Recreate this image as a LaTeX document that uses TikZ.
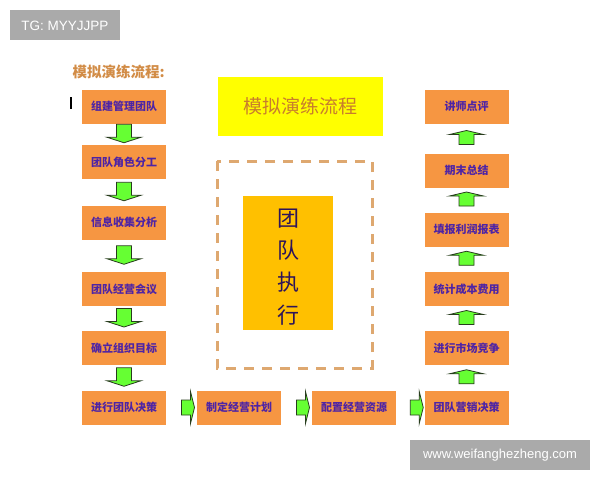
\documentclass[tikz,border=0pt]{standalone}
\usepackage{fontspec}
\setmainfont{Liberation Sans}
\newfontfamily\cjk{Noto Sans CJK SC}
\usetikzlibrary{calc}
\definecolor{boxorange}{RGB}{246,150,66}
\definecolor{boxtext}{RGB}{78,36,165}
\definecolor{agreen}{RGB}{102,255,51}
\definecolor{aline}{RGB}{40,60,30}
\definecolor{dashtan}{RGB}{222,168,112}
\definecolor{titletan}{RGB}{210,140,70}
\definecolor{ttlyellow}{RGB}{255,255,0}
\definecolor{ttltext}{RGB}{200,125,45}
\definecolor{gold}{RGB}{255,192,0}
\definecolor{goldtext}{RGB}{45,20,90}
\definecolor{wmgray}{RGB}{170,170,170}
\tikzset{
  box/.style={fill=boxorange, minimum width=84pt, minimum height=34pt, inner sep=0pt,
    text=boxtext, font=\cjk\bfseries\fontsize{11}{13}\selectfont},
  garrow/.style={fill=agreen, draw=aline, line width=0.8pt, line join=miter},
  wm/.style={fill=wmgray, text=white, inner sep=0pt}
}
\newcommand\arrdown[2]{%
  \begin{scope}[shift={($(#1.south)!0.5!(#2.north)$)}]
    \draw[garrow] (-7.5,-10) -- (7.5,-10) -- (7.5,3) -- (17,3) -- (0,8.5) -- (-17,3) -- (-7.5,3) -- cycle;
  \end{scope}}
\newcommand\arrup[2]{%
  \begin{scope}[shift={($(#1.north)!0.5!(#2.south)$)}]
    \draw[garrow] (-7.5,6) -- (7.5,6) -- (7.5,-4) -- (17,-4) -- (0,-8) -- (-17,-4) -- (-7.5,-4) -- cycle;
  \end{scope}}
\newcommand\arrright[2]{%
  \begin{scope}[shift={($(#1.east)!0.5!(#2.west)$)}]
    \draw[garrow] (0,-7.5) -- (9,-7.5) -- (9,-16) -- (13,0) -- (9,16) -- (9,7.5) -- (0,7.5) -- cycle;
  \end{scope}}
\begin{document}
\begin{tikzpicture}[x=1pt,y=-1pt]
\fill[white] (0,0) rectangle (600,480);
\useasboundingbox (0,0) rectangle (600,480);

% watermarks
\fill[wmgray] (10,10) rectangle (120,40);
\node[text=white, font=\fontsize{13.5}{15}\selectfont] (wm1) at (65,25.5) {TG: MYYJJPP};
\fill[wmgray] (410,440) rectangle (590,470);
\node[text=white, font=\fontsize{13}{15}\selectfont] (wm2) at (500,455) {www.weifanghezheng.com};

% left title
\node[anchor=west, inner sep=0pt, text=titletan, font=\cjk\bfseries\fontsize{14.5}{16}\selectfont] (ltitle) at (72.5,72) {模拟演练流程:};
\draw[black, line width=1.2pt] (71,97) -- (71,109);

% main title
\fill[ttlyellow] (218,77) rectangle (383,136);
\node[text=ttltext, font=\cjk\fontsize{19}{22}\selectfont] (mtitle) at (300.5,106.5) {模拟演练流程};

% dashed frame and centre box
\draw[dashtan, line width=3pt, dash pattern=on 10pt off 8pt] (217,161) rectangle (372,368);
\fill[gold] (243,196) rectangle (333,330);
\node[align=center, text=goldtext, font=\cjk\fontsize{22}{32.3}\selectfont, inner sep=0pt] (exec) at (288,267) {团\\队\\执\\行};

% left column
\node[box] (L1) at (124,106.5) {组建管理团队};
\node[box] (L2) at (124,162) {团队角色分工};
\node[box] (L3) at (124,222.5) {信息收集分析};
\node[box] (L4) at (124,289) {团队经营会议};
\node[box] (L5) at (124,348) {确立组织目标};
\node[box] (L6) at (124,407.5) {进行团队决策};

% bottom row
\node[box] (B1) at (239,407.5) {制定经营计划};
\node[box] (B2) at (354,407.5) {配置经营资源};

% right column
\node[box] (R6) at (466.5,407.5) {团队营销决策};
\node[box] (R5) at (466.5,348) {进行市场竞争};
\node[box] (R4) at (466.5,289) {统计成本费用};
\node[box] (R3) at (466.5,229.5) {填报利润报表};
\node[box] (R2) at (466.5,170.5) {期末总结};
\node[box] (R1) at (466.5,106.5) {讲师点评};

% arrows
\arrdown{L1}{L2}
\arrdown{L2}{L3}
\arrdown{L3}{L4}
\arrdown{L4}{L5}
\arrdown{L5}{L6}
\arrright{L6}{B1}
\arrright{B1}{B2}
\arrright{B2}{R6}
\arrup{R6}{R5}
\arrup{R5}{R4}
\arrup{R4}{R3}
\arrup{R3}{R2}
\arrup{R2}{R1}
\end{tikzpicture}
\end{document}
